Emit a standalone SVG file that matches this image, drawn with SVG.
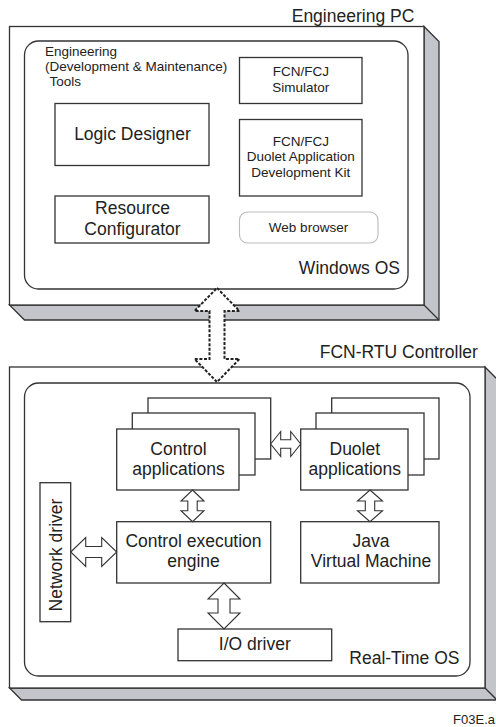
<svg xmlns="http://www.w3.org/2000/svg" width="496" height="727" viewBox="0 0 496 727">
<style>
text{font-family:"Liberation Sans",Arial,sans-serif;fill:#222}
.big{font-size:17.5px}
.sm{font-size:13.5px}
.mid{text-anchor:middle}
.end{text-anchor:end}
.box{fill:#fff;stroke:#333;stroke-width:1.3}
.shadow{fill:#c3c5ca;stroke:#333;stroke-width:1.3;stroke-linejoin:miter}
.inner{fill:none;stroke:#333;stroke-width:1.3}
.arr{fill:#fff;stroke:#333;stroke-width:1.1;stroke-linejoin:miter}
.dash{fill:#fff;stroke:#222;stroke-width:2;stroke-dasharray:3 1.6}
</style>

<g id="engineering-pc">
  <path class="shadow" d="M424,26.5 L439,41.5 L439,320 L24.5,320 L9.5,305 L424,305 Z"/>
  <line x1="424" y1="305" x2="439" y2="320" stroke="#333" stroke-width="1.3"/>
  <rect class="box" x="9.5" y="26.5" width="414.5" height="278.5"/>
  <rect class="inner" x="24.5" y="41" width="383.5" height="248" rx="14"/>
  <text class="big mid" x="353" y="21.5">Engineering PC</text>
  <text class="big end" x="400" y="274">Windows OS</text>
  <text class="sm" x="45" y="56">Engineering</text>
  <text class="sm" x="45" y="71">(Development &amp; Maintenance)</text>
  <text class="sm" x="49.5" y="86">Tools</text>
</g>

<g id="logic-designer">
  <rect class="box" x="55" y="103.5" width="154" height="62"/>
  <text class="big mid" x="132.5" y="139.5">Logic Designer</text>
</g>

<g id="resource-configurator">
  <rect class="box" x="55" y="196" width="154" height="47"/>
  <text class="big mid" x="132.5" y="213.5">Resource</text>
  <text class="big mid" x="132.5" y="234.5">Configurator</text>
</g>

<g id="simulator">
  <rect class="box" x="239.5" y="57.5" width="122.5" height="46"/>
  <text class="sm mid" x="300.8" y="75.5">FCN/FCJ</text>
  <text class="sm mid" x="300.8" y="91.5">Simulator</text>
</g>

<g id="duolet-kit">
  <rect class="box" x="239.5" y="119.5" width="122.5" height="76.5"/>
  <text class="sm mid" x="300.8" y="145.8">FCN/FCJ</text>
  <text class="sm mid" x="300.8" y="161.3">Duolet Application</text>
  <text class="sm mid" x="300.8" y="176.8">Development Kit</text>
</g>

<g id="web-browser">
  <rect x="239.5" y="212" width="138.5" height="31" rx="8" fill="#fff" stroke="#bbb" stroke-width="1.1"/>
  <text class="sm mid" x="308.5" y="232.3">Web browser</text>
</g>

<g id="fcn-rtu-controller">
  <path class="shadow" d="M485,367 L497,379 L497,700 L21.5,700 L9.5,688 L485,688 Z"/>
  <line x1="485" y1="688" x2="497" y2="700" stroke="#333" stroke-width="1.3"/>
  <rect class="box" x="9.5" y="367" width="475.5" height="321"/>
  <rect class="inner" x="24.5" y="383" width="445.5" height="293" rx="14"/>
  <text class="big mid" x="398.8" y="357.7">FCN-RTU Controller</text>
  <text class="big end" x="459.5" y="664.3">Real-Time OS</text>
</g>

<g id="control-applications">
  <rect class="box" x="148" y="398" width="122.7" height="61"/>
  <rect class="box" x="132.3" y="413" width="122.7" height="62"/>
  <rect class="box" x="116.7" y="429" width="122.3" height="61"/>
  <text class="big mid" x="178.5" y="455">Control</text>
  <text class="big mid" x="178.5" y="475">applications</text>
</g>

<g id="duolet-applications">
  <rect class="box" x="331.7" y="398" width="107.3" height="61"/>
  <rect class="box" x="316" y="413" width="108" height="62"/>
  <rect class="box" x="300.7" y="429" width="107.3" height="61"/>
  <text class="big mid" x="354.8" y="455">Duolet</text>
  <text class="big mid" x="354.8" y="475">applications</text>
</g>

<g id="control-execution-engine">
  <rect class="box" x="116.7" y="521.7" width="154" height="61.3"/>
  <text class="big mid" x="193.5" y="546.7">Control execution</text>
  <text class="big mid" x="193.5" y="566.7">engine</text>
</g>

<g id="java-vm">
  <rect class="box" x="300.7" y="521.7" width="138.3" height="61.3"/>
  <text class="big mid" x="371" y="546.7">Java</text>
  <text class="big mid" x="371" y="566.7">Virtual Machine</text>
</g>

<g id="network-driver">
  <rect class="box" x="40" y="482.7" width="30.7" height="139"/>
  <text class="big mid" x="61.7" y="555" transform="rotate(-90 61.7 555)">Network driver</text>
</g>

<g id="io-driver">
  <rect class="box" x="178" y="629" width="153.7" height="31.7"/>
  <text class="big mid" x="254.8" y="650">I/O driver</text>
</g>

<g id="connectors">
  <path class="dash" d="M217,288 L239.5,311 L224.5,311 L224.5,359 L239.5,359 L217,382 L194.5,359 L209.5,359 L209.5,311 L194.5,311 Z"/>
  <path class="arr" d="M270.7,444 L280.7,431.5 L280.7,439.8 L290.7,439.8 L290.7,431.5 L300.7,444 L290.7,456.5 L290.7,448.2 L280.7,448.2 L280.7,456.5 Z"/>
  <path class="arr" d="M192.5,490 L204,501 L197.2,501 L197.2,510.7 L204,510.7 L192.5,521.7 L181,510.7 L187.8,510.7 L187.8,501 L181,501 Z"/>
  <path class="arr" d="M370,490 L382.5,501 L374.7,501 L374.7,510.7 L382.5,510.7 L370,521.7 L357.5,510.7 L365.3,510.7 L365.3,501 L357.5,501 Z"/>
  <path class="arr" d="M224,583 L240,599 L230,599 L230,613 L240,613 L224,629 L208,613 L218,613 L218,599 L208,599 Z"/>
  <path class="arr" d="M70.7,552 L85.7,537.5 L85.7,546.5 L101.7,546.5 L101.7,537.5 L116.7,552 L101.7,566.5 L101.7,557.5 L85.7,557.5 L85.7,566.5 Z"/>
</g>

<text x="495" y="724" class="end" style="font-size:13px">F03E.a</text>
</svg>
